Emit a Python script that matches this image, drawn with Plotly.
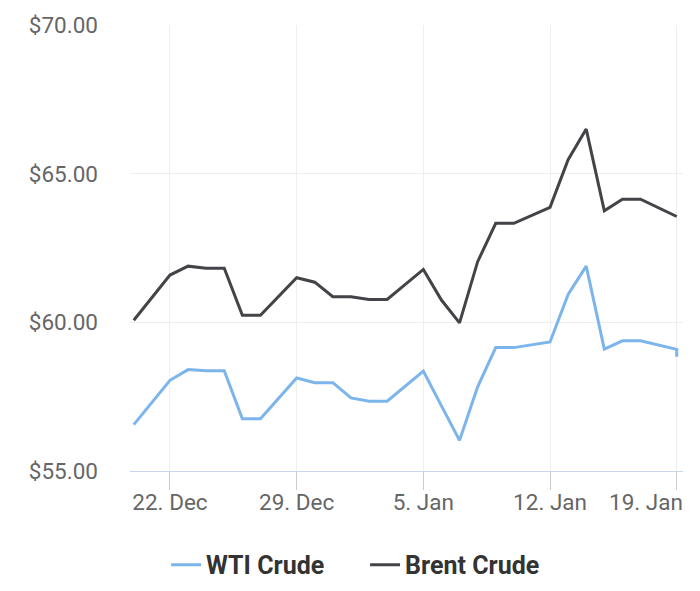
import plotly.graph_objects as go

dates = ["2025-12-20", "2025-12-22", "2025-12-23", "2025-12-24", "2025-12-25",
         "2025-12-26", "2025-12-27", "2025-12-29", "2025-12-30", "2025-12-31",
         "2026-01-01", "2026-01-02", "2026-01-03", "2026-01-05", "2026-01-06",
         "2026-01-07", "2026-01-08", "2026-01-09", "2026-01-10", "2026-01-12",
         "2026-01-13", "2026-01-14", "2026-01-15", "2026-01-16", "2026-01-17",
         "2026-01-19"]

brent = [60.07, 61.59, 61.89, 61.82, 61.82, 60.24, 60.24, 61.50, 61.35, 60.86,
         60.86, 60.77, 60.77, 61.78, 60.75, 59.98, 62.04, 63.33, 63.33, 63.87,
         65.47, 66.50, 63.75, 64.14, 64.14, 63.56]

wti_dates = dates + ["2026-01-19"]
wti = [56.56, 58.05, 58.41, 58.37, 58.37, 56.76, 56.76, 58.13, 57.97, 57.97,
       57.46, 57.35, 57.35, 58.36, 57.19, 56.03, 57.83, 59.15, 59.15, 59.34,
       60.94, 61.89, 59.10, 59.38, 59.38, 59.09, 58.84]

tick_dates = ["2025-12-22", "2025-12-29", "2026-01-05", "2026-01-12", "2026-01-19"]
tick_labels = ["22. Dec", "29. Dec", "5. Jan", "12. Jan", "19. Jan"]

y_ticks = [55, 60, 65, 70]

FONT = "Roboto"
AX = 22.5

fig = go.Figure()
fig.add_trace(go.Scatter(x=wti_dates, y=wti, mode="lines", name="WTI Crude",
                         line=dict(color="#7cb5ec", width=3)))
fig.add_trace(go.Scatter(x=dates, y=brent, mode="lines", name="Brent Crude",
                         line=dict(color="#434348", width=3)))

fig.update_layout(
    width=692, height=583,
    margin=dict(l=122, r=17, t=17, b=120, autoexpand=False),
    paper_bgcolor="white", plot_bgcolor="white",
    font=dict(family=FONT, color="#666666", size=AX),
    showlegend=True,
    legend=dict(orientation="h", xref="container", yref="container",
                x=0.516, xanchor="center", y=0.0446, yanchor="middle",
                font=dict(family=FONT, size=25, color="#333333", weight="bold"),
                itemwidth=30, entrywidth=154, tracegroupgap=0),
    xaxis=dict(type="date", automargin=False,
               range=["2025-12-19 19:00", "2026-01-19 08:20"],
               tickvals=tick_dates,
               ticktext=tick_labels[:-1] + [""],
               showgrid=True, gridcolor="#efefef", gridwidth=1,
               showline=True, linecolor="#ccd6eb", linewidth=1,
               ticks="outside", ticklen=18, tickcolor="#cccccc",
               ticklabelstandoff=-7,
               tickfont=dict(family=FONT, size=AX, color="#666666"),
               zeroline=False, fixedrange=True),
    yaxis=dict(range=[55, 70], tickvals=y_ticks, automargin=False,
               tickformat="$.2f",
               showgrid=True, gridcolor="#efefef", gridwidth=1,
               showline=False, zeroline=False, ticks="",
               ticklabelstandoff=31,
               tickfont=dict(family=FONT, size=AX, color="#666666")),
)

fig.add_annotation(x=tick_dates[-1], xref="x", y=0, yref="paper",
                   text=tick_labels[-1], showarrow=False,
                   xanchor="center", yanchor="top", xshift=-31, yshift=-16,
                   font=dict(family=FONT, size=AX, color="#666666"))

fig.write_html("out.html")
